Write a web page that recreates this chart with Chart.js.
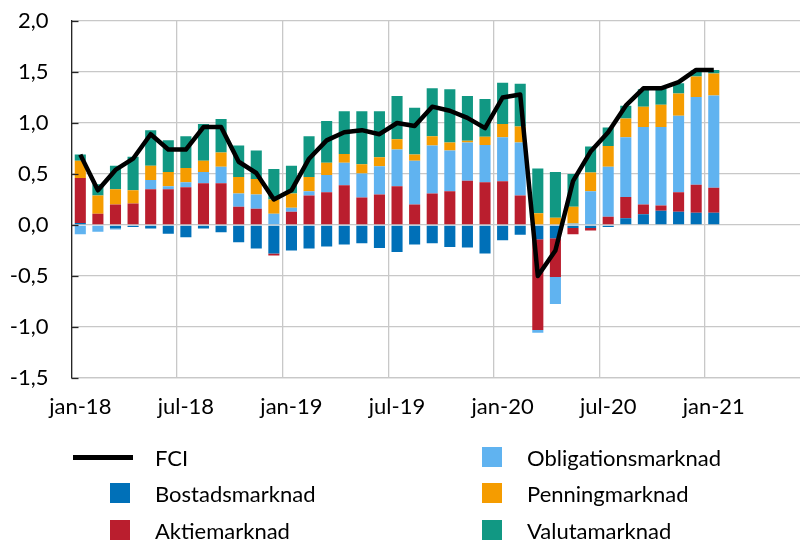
<!DOCTYPE html>
<html>
<head>
<meta charset="utf-8">
<script src="https://cdn.jsdelivr.net/npm/chart.js@4.4.1/dist/chart.umd.min.js"></script>
<style>
  body { margin: 0; background: #fff; }
  #wrap { position: relative; width: 800px; height: 540px; }
  #chart { position: absolute; left: 0; top: 0; }
  .item { position: absolute; height: 30px; display: flex; align-items: center;
          font: 22px Lato, sans-serif; color: #000; white-space: nowrap; }
  .sq { width: 20px; height: 20px; }
  .ln { width: 60px; height: 5px; background: #000; }
</style>
</head>
<body>
<div id="wrap">
  <canvas id="chart" width="800" height="540"></canvas>
  <div id="legend"></div>
</div>
<script>
// Månader jan-18 .. jan-21
const months = [
  'jan-18','feb-18','mar-18','apr-18','maj-18','jun-18','jul-18','aug-18','sep-18','okt-18','nov-18','dec-18',
  'jan-19','feb-19','mar-19','apr-19','maj-19','jun-19','jul-19','aug-19','sep-19','okt-19','nov-19','dec-19',
  'jan-20','feb-20','mar-20','apr-20','maj-20','jun-20','jul-20','aug-20','sep-20','okt-20','nov-20','dec-20',
  'jan-21'
];

const fci = [0.69,0.34,0.54,0.65,0.89,0.74,0.74,0.96,0.96,0.62,0.51,0.25,
             0.34,0.65,0.83,0.91,0.93,0.89,1.00,0.97,1.16,1.12,1.05,0.95,
             1.25,1.28,-0.50,-0.25,0.43,0.72,0.91,1.17,1.34,1.34,1.40,1.52,
             1.52];

const bostad = [0.02,0,-0.035,-0.02,-0.035,-0.085,-0.12,-0.035,-0.07,-0.17,-0.23,-0.28,
                -0.25,-0.23,-0.21,-0.19,-0.18,-0.225,-0.265,-0.19,-0.18,-0.215,-0.22,-0.28,
                -0.15,-0.095,-0.14,-0.13,-0.03,-0.03,-0.02,0.065,0.105,0.14,0.13,0.12,
                0.12];

const aktie = [0.44,0.11,0.20,0.21,0.35,0.35,0.37,0.41,0.41,0.18,0.16,-0.02,
               0.13,0.29,0.32,0.39,0.27,0.30,0.38,0.20,0.31,0.33,0.435,0.42,
               0.43,0.29,-0.89,-0.38,-0.06,-0.025,0.08,0.21,0.095,0.05,0.19,0.275,
               0.245];

const obligation = [-0.09,-0.065,-0.01,0,0.09,0.03,0.05,0.11,0.16,0.13,0.14,0.11,
                    0.04,0.04,0.17,0.22,0.235,0.275,0.36,0.43,0.47,0.40,0.375,0.365,
                    0.43,0.52,-0.026,-0.265,0.015,0.33,0.49,0.585,0.76,0.77,0.75,0.86,
                    0.905];

const penning = [0.17,0.18,0.15,0.13,0.14,0.14,0.14,0.11,0.14,0.16,0.15,0.14,
                 0.14,0.14,0.12,0.085,0.09,0.09,0.10,0.06,0.09,0.08,0.015,0.08,
                 0.13,0.155,0.115,0.07,0.165,0.185,0.205,0.185,0.20,0.22,0.22,0.20,
                 0.215];

const valuta = [0.06,0.11,0.23,0.33,0.35,0.31,0.31,0.36,0.33,0.31,0.28,0.30,
                0.27,0.40,0.41,0.42,0.52,0.45,0.425,0.46,0.47,0.52,0.44,0.37,
                0.405,0.42,0.44,0.45,0.32,0.255,0.18,0.125,0.17,0.155,0.10,0.06,
                0.035];

const yTicks = [-1.5,-1.0,-0.5,0,0.5,1.0,1.5,2.0];
const FONT = 'Lato, sans-serif';

function pts(arr) {
  return arr.map((v, i) => ({ x: i, y: v }));
}

function bar(label, arr, color) {
  return {
    type: 'bar', label: label, data: pts(arr), order: 1,
    backgroundColor: color, borderWidth: 0,
    barPercentage: 0.63, categoryPercentage: 1.0
  };
}

const datasets = [
  { type: 'line', label: 'FCI', data: pts(fci), order: 0, stack: 'fci',
    borderColor: '#000', borderWidth: 4.5, pointRadius: 0, tension: 0,
    borderJoinStyle: 'round', fill: false },
  bar('Bostadsmarknad', bostad, '#0070b8'),
  bar('Aktiemarknad', aktie, '#ba1e2e'),
  bar('Obligationsmarknad', obligation, '#60b3f0'),
  bar('Penningmarknad', penning, '#f59c00'),
  bar('Valutamarknad', valuta, '#119883')
];

// tick marks on the inside of the y axis
const innerTicks = {
  id: 'innerTicks',
  afterDraw(chart) {
    const y = chart.scales.y, ctx = chart.ctx, left = chart.chartArea.left;
    ctx.save();
    ctx.strokeStyle = '#262626';
    ctx.lineWidth = 1.3;
    y.ticks.forEach(t => {
      const py = Math.round(y.getPixelForValue(t.value)) + 0.5;
      ctx.beginPath();
      ctx.moveTo(left, py);
      ctx.lineTo(left + 7, py);
      ctx.stroke();
    });
    ctx.restore();
  }
};

// gridlines/labels every six months, at the left edge of jan/jul
const halfYearEdges = [];
for (let i = 0; i < months.length; i += 6) halfYearEdges.push(i - 0.5);

new Chart(document.getElementById('chart'), {
  data: { datasets: datasets },
  plugins: [innerTicks],
  options: {
    responsive: false,
    animation: false,
    layout: { padding: { top: 21, right: 0, bottom: 0, left: 0 } },
    plugins: { legend: { display: false }, tooltip: { enabled: false } },
    scales: {
      x: {
        type: 'linear', stacked: true, offset: false,
        min: -0.5, max: 40.9,
        afterBuildTicks(s) { s.ticks = halfYearEdges.map(v => ({ value: v })); },
        afterFit(s) { s.height = 162; },
        grid: { color: '#c8c8c8', lineWidth: 1.3, drawTicks: false, offset: false },
        border: { color: '#c8c8c8', width: 1.3 },
        ticks: {
          autoSkip: false, maxRotation: 0, padding: 16, labelOffset: 8.8,
          color: '#000', font: { family: FONT, size: 22 },
          callback: v => months[Math.round(v + 0.5)]
        }
      },
      y: {
        stacked: true, min: -1.5, max: 2.0,
        afterBuildTicks(s) { s.ticks = yTicks.map(v => ({ value: v })); },
        afterFit(s) { s.width = 71.5; s.paddingTop = 0; s.paddingBottom = 0; },
        grid: { color: '#c8c8c8', lineWidth: 1.3, drawTicks: false },
        border: { color: '#262626', width: 1.3 },
        ticks: {
          padding: 23, color: '#000', font: { family: FONT, size: 22 },
          callback: v => v.toFixed(1).replace('.', ',')
        }
      }
    }
  }
});

// legend in two columns below the chart
const legendSpots = [
  { mark: 73, text: 155, y: 457 },   // FCI
  { mark: 110, text: 155, y: 493 },  // Bostadsmarknad
  { mark: 110, text: 155, y: 530 },  // Aktiemarknad
  { mark: 482, text: 527, y: 457 },  // Obligationsmarknad
  { mark: 482, text: 527, y: 493 },  // Penningmarknad
  { mark: 482, text: 527, y: 530 }   // Valutamarknad
];
const legend = document.getElementById('legend');
datasets.forEach((ds, i) => {
  const spot = legendSpots[i];
  const m = document.createElement('div');
  m.className = 'item';
  m.style.left = spot.mark + 'px';
  m.style.top = (spot.y - 15) + 'px';
  const box = document.createElement('div');
  if (ds.type === 'line') {
    box.className = 'ln';
  } else {
    box.className = 'sq';
    box.style.background = ds.backgroundColor;
  }
  m.appendChild(box);
  legend.appendChild(m);

  const t = document.createElement('div');
  t.className = 'item';
  t.style.left = spot.text + 'px';
  t.style.top = (spot.y - 15) + 'px';
  t.textContent = ds.label;
  legend.appendChild(t);
});
</script>
</body>
</html>
